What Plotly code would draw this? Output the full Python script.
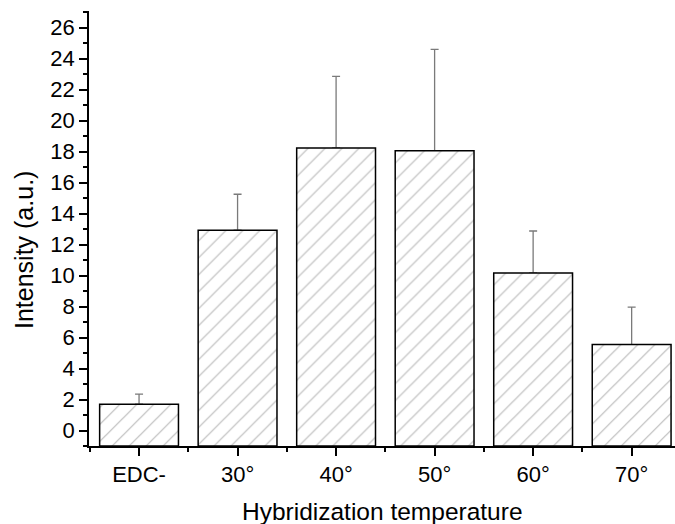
import plotly.graph_objects as go

categories = ["EDC-", "30°", "40°", "50°", "60°", "70°"]
values = [1.70, 12.93, 18.24, 18.06, 10.17, 5.55]
errors = [0.65, 2.32, 4.62, 6.54, 2.71, 2.41]
positions = list(range(len(categories)))
y_ticks = list(range(0, 27, 2))
y_min = -1
bar_lengths = [v - y_min for v in values]

FONT = "Liberation Sans, Arial, sans-serif"

fig = go.Figure()
# error bars (drawn underneath the bars so only the upper part shows)
fig.add_trace(go.Bar(
    x=positions, y=values, width=0.8,
    marker=dict(color="rgba(0,0,0,0)", line=dict(width=0)),
    error_y=dict(type="data", array=errors, arrayminus=[0]*len(errors), symmetric=False,
                 color="#7a7a7a", thickness=1.3, width=4),
    showlegend=False, hoverinfo="skip",
))
# hatched bars, starting at the bottom of the axis
fig.add_trace(go.Bar(
    x=positions, y=bar_lengths, base=y_min, width=0.8,
    marker=dict(color="white", line=dict(color="black", width=1.5),
                pattern=dict(shape="/", size=12, solidity=0.1, fgcolor="#777777", bgcolor="white")),
    showlegend=False,
))

fig.update_layout(
    width=675, height=524,
    margin=dict(l=89, r=0, t=11, b=78),
    paper_bgcolor="white", plot_bgcolor="white",
    barmode="overlay",
    font=dict(family=FONT, color="black"),
    xaxis=dict(
        range=[-0.508, 5.44], tickmode="array", tickvals=positions, ticktext=categories,
        showline=True, linecolor="black", linewidth=1.5, mirror=False,
        ticks="outside", ticklen=8, tickwidth=1.5, tickcolor="black",
        minor=dict(tickmode="linear", tick0=0.5, dtick=1, ticks="outside", ticklen=4,
                   tickwidth=1.5, tickcolor="black"),
        showgrid=False, zeroline=False,
        tickfont=dict(size=22, family=FONT, color="black"),
    ),
    yaxis=dict(
        range=[y_min, 27.08], tickmode="array", tickvals=y_ticks,
        showline=True, linecolor="black", linewidth=1.5,
        ticks="outside", ticklen=8, tickwidth=1.5, tickcolor="black",
        minor=dict(tickmode="linear", tick0=1, dtick=2, ticks="outside", ticklen=4,
                   tickwidth=1.5, tickcolor="black"),
        showgrid=False, zeroline=False,
        tickfont=dict(size=22, family=FONT, color="black"),
    ),
    annotations=[
        dict(text="Hybridization temperature", xref="paper", yref="paper",
             x=(382 - 89) / (675 - 89), y=-(511.7 - 446) / 435, xanchor="center", yanchor="middle",
             showarrow=False, font=dict(size=24.5, family=FONT, color="black")),
        dict(text="Intensity (a.u.)", xref="paper", yref="paper",
             x=-(89 - 24) / (675 - 89), y=(446 - 250) / 435, xanchor="center", yanchor="middle",
             textangle=-90, showarrow=False, font=dict(size=25, family=FONT, color="black")),
    ],
)

fig.write_html("out.html")
